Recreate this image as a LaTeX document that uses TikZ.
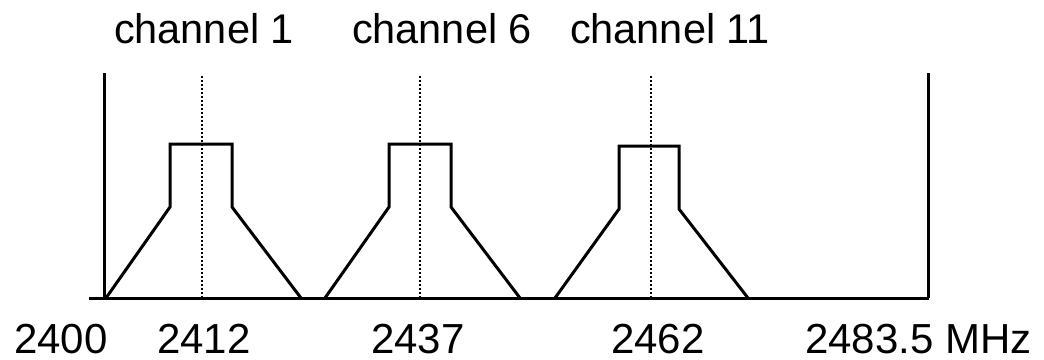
\documentclass[tikz,border=0pt]{standalone}
\usepackage{fontspec}
\setmainfont{Liberation Sans}
\begin{document}
\begin{tikzpicture}[x=1pt,y=-1pt,
  band/.style={line width=3pt,line join=miter},
  axis/.style={line width=3pt},
  centre/.style={line width=1.6pt,dash pattern=on 1.6pt off 2.4pt},
  chlabel/.style={anchor=base,inner sep=0pt,font=\fontsize{41.5}{48}\selectfont},
  freq/.style={anchor=base,inner sep=0pt,font=\fontsize{42}{50}\selectfont}]
\useasboundingbox (0,0) rectangle (1044,359);

% axes
\coordinate (o) at (89,298);
\coordinate (e) at (929,298);
\coordinate (lb) at (104,298);
\coordinate (lt) at (104,73);
\coordinate (rb) at (928,298);
\coordinate (rt) at (928,73);
\draw[axis] (o) -- (e);
\draw[axis] (lb) -- (lt);
\draw[axis] (rb) -- (rt);

% channel centre lines
\foreach \n/\cx in {c1/202,c6/420,c11/651}{
  \coordinate (\n top) at (\cx,76);
  \coordinate (\n bot) at (\cx,298);
  \draw[centre] (\n top) -- (\n bot);
}

% channel spectral masks
\draw[band] (106,298) -- (170,207) -- (170,144) -- (232,144) -- (232,207) -- (301,298);
\draw[band] (325,298) -- (389,207) -- (389,144) -- (451,144) -- (451,207) -- (520,298);
\draw[band] (555,298) -- (619,209) -- (619,146) -- (679,146) -- (679,209) -- (748,298);

% channel names
\node[chlabel] (n1) at (204,43) {channel 1};
\node[chlabel] (n6) at (442,43) {channel 6};
\node[chlabel] (n11) at (670,43) {channel 11};

% frequency labels
\node[freq] (f0) at (61,353) {2400};
\node[freq] (f1) at (204,353) {2412};
\node[freq] (f6) at (418,353) {2437};
\node[freq] (f11) at (658,353) {2462};
\node[freq,anchor=base west] (fe) at (805,353) {2483.5 MHz};
\end{tikzpicture}
\end{document}
